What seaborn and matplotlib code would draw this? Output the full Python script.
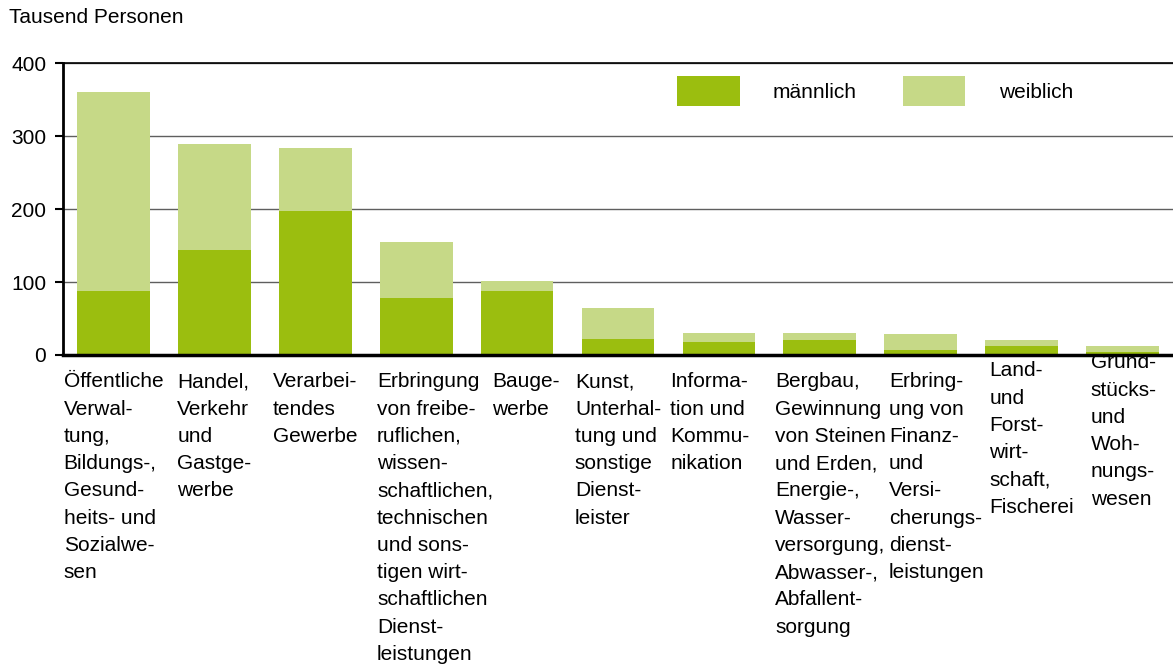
import matplotlib
matplotlib.use("Agg")
import matplotlib.pyplot as plt
import matplotlib.transforms as mtransforms
from matplotlib.patches import Patch
import seaborn as sns
import pandas as pd

# Wirtschaftsbereiche (Zeilenumbrüche wie im Original)
categories = [
    "Öffentliche\nVerwal-\ntung,\nBildungs-,\nGesund-\nheits- und\nSozialwe-\nsen",
    "Handel,\nVerkehr\nund\nGastge-\nwerbe",
    "Verarbei-\ntendes\nGewerbe",
    "Erbringung\nvon freibe-\nruflichen,\nwissen-\nschaftlichen,\ntechnischen\nund sons-\ntigen wirt-\nschaftlichen\nDienst-\nleistungen",
    "Bauge-\nwerbe",
    "Kunst,\nUnterhal-\ntung und\nsonstige\nDienst-\nleister",
    "Informa-\ntion und\nKommu-\nnikation",
    "Bergbau,\nGewinnung\nvon Steinen\nund Erden,\nEnergie-,\nWasser-\nversorgung,\nAbwasser-,\nAbfallent-\nsorgung",
    "Erbring-\nung von\nFinanz-\nund\nVersi-\ncherungs-\ndienst-\nleistungen",
    "Land-\nund\nForst-\nwirt-\nschaft,\nFischerei",
    "Grund-\nstücks-\nund\nWoh-\nnungs-\nwesen",
]
maennlich = [88, 144, 197, 78, 88, 22, 18, 20, 7, 12, 4]
gesamt = [360, 289, 284, 155, 101, 64, 30, 30, 29, 21, 12]

col_m = "#9bbe0f"
col_w = "#c6d987"

df = pd.DataFrame({"bereich": categories, "maennlich": maennlich, "gesamt": gesamt})

sns.set_style("white")
plt.rcParams["font.family"] = ["Liberation Sans", "DejaVu Sans"]
plt.rcParams["text.color"] = "black"
plt.rcParams["xtick.color"] = "black"
plt.rcParams["ytick.color"] = "black"

fs = 15

fig = plt.figure(figsize=(11.73, 6.66), dpi=100)
ax = fig.add_axes([0.0537, 0.467, 0.9463, 0.438])

sns.barplot(data=df, x="bereich", y="gesamt", color=col_w, width=0.72,
            saturation=1, linewidth=0, ax=ax)
sns.barplot(data=df, x="bereich", y="maennlich", color=col_m, width=0.72,
            saturation=1, linewidth=0, ax=ax)

ax.set_xlim(-0.5, len(categories) - 0.5)
ax.set_ylim(0, 400)
ax.set_yticks([0, 100, 200, 300, 400])
ax.set_xlabel("")
ax.set_ylabel("")

ax.yaxis.grid(True, color="#5f5f5f", linewidth=1)
ax.set_axisbelow(True)
ax.spines["right"].set_visible(False)
ax.spines["top"].set_color("black")
ax.spines["top"].set_linewidth(1.2)
ax.spines["left"].set_color("black")
ax.spines["left"].set_linewidth(2)
ax.spines["bottom"].set_color("black")
ax.spines["bottom"].set_linewidth(2.5)

ax.tick_params(axis="y", left=True, length=6, width=1.5, color="black",
               labelsize=fs, pad=6)
ax.tick_params(axis="x", bottom=False, labelsize=fs, pad=9)

ax.set_xticks(range(len(categories)))
ax.set_xticklabels(categories, ha="center", va="top", multialignment="left",
                   linespacing=1.55)

# Beschriftungen sind im Original teils seitlich/nach oben verrückt (px)
shifts = {3: (19, 0), 4: (9, 0), 6: (-9, 0), 7: (11, 0), 8: (16, 0),
          9: (10, 11), 10: (1, 19)}
for i, lab in enumerate(ax.get_xticklabels()):
    if i in shifts:
        dx, dy = shifts[i]
        off = mtransforms.ScaledTranslation(dx / 100, dy / 100, fig.dpi_scale_trans)
        lab.set_transform(lab.get_transform() + off)

handles = [Patch(facecolor=col_m, edgecolor="none"),
           Patch(facecolor=col_w, edgecolor="none")]
fig.legend(handles, ["männlich", "weiblich"], loc="center",
           bbox_to_anchor=(875 / 1173, 1 - 91 / 666), ncol=2, frameon=False,
           fontsize=fs, handlelength=3.0, handleheight=1.9,
           handletextpad=1.6, columnspacing=2.2)

fig.text(9 / 1173, 1 - 8 / 666, "Tausend Personen", ha="left", va="top",
         fontsize=fs)

fig.savefig("out.png", dpi=100)
